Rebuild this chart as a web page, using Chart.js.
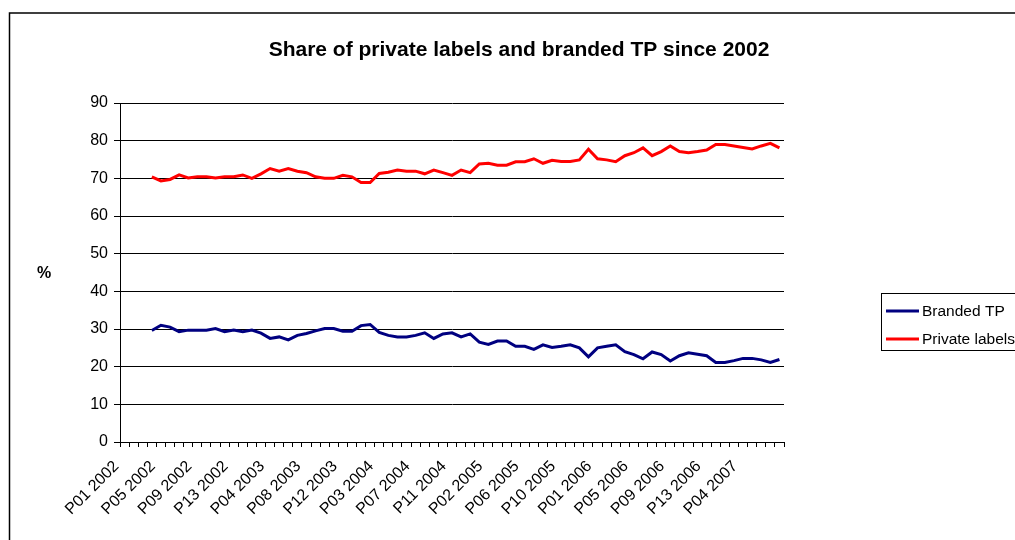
<!DOCTYPE html>
<html>
<head>
<meta charset="utf-8">
<script src="https://cdn.jsdelivr.net/npm/chart.js@4/dist/chart.umd.min.js"></script>
<style>
  body { margin: 0; background: #fff; overflow: hidden; }
  #wrap { position: absolute; left: 0; top: 0; width: 1015px; height: 540px; }
</style>
</head>
<body>
<div id="wrap"><canvas id="chart" width="1015" height="540"></canvas></div>
<script>
// periods P01 2002 .. P08 2007 (13 periods per year)
const periods = [];
for (let year = 2002; year <= 2007; year++) {
    for (let p = 1; p <= 13; p++) {
        if (periods.length < 73) periods.push('P' + String(p).padStart(2, '0') + ' ' + year);
    }
}

// labels actually printed under the axis (every 4th period)
const tickLabels = [
    'P01 2002', 'P05 2002', 'P09 2002', 'P13 2002', 'P04 2003', 'P08 2003',
    'P12 2003', 'P03 2004', 'P07 2004', 'P11 2004', 'P02 2005', 'P06 2005',
    'P10 2005', 'P01 2006', 'P05 2006', 'P09 2006', 'P13 2006', 'P04 2007'
];

// data starts at P04 2002
const firstPeriod = 3;

const brandedTP = [
    29.6, 31.0, 30.5, 29.3, 29.7, 29.7, 29.7, 30.1, 29.3, 29.7, 29.3, 29.7,
    28.9, 27.5, 27.9, 27.1, 28.3, 28.8, 29.5, 30.1, 30.1, 29.4,
    29.4, 30.9, 31.2, 29.1, 28.3, 27.9, 27.9, 28.3, 29.0, 27.5, 28.7, 29.0,
    27.9, 28.7, 26.5, 25.9, 26.8, 26.8, 25.4, 25.4, 24.6, 25.8, 25.1, 25.4,
    25.8, 25.0, 22.6, 25.0, 25.4, 25.8, 24.0, 23.2, 22.1, 23.9, 23.2, 21.5,
    22.9, 23.7, 23.3, 22.9, 21.1, 21.1, 21.6, 22.2, 22.2, 21.8, 21.1, 21.9
];

const privateLabels = [
    70.4, 69.3, 69.7, 70.9, 70.1, 70.4, 70.4, 70.1, 70.4, 70.4, 70.9, 70.0,
    71.2, 72.6, 71.9, 72.6, 71.9, 71.5, 70.4, 70.0, 70.0, 70.8,
    70.4, 68.9, 68.9, 71.3, 71.6, 72.2, 71.9, 71.9, 71.2, 72.2, 71.5, 70.8,
    72.2, 71.5, 73.8, 74.0, 73.5, 73.5, 74.4, 74.4, 75.2, 74.0, 74.8, 74.5,
    74.5, 74.9, 77.7, 75.2, 74.9, 74.4, 76.0, 76.8, 78.1, 76.0, 77.1, 78.6,
    77.1, 76.8, 77.1, 77.5, 79.0, 79.0, 78.6, 78.2, 77.8, 78.6, 79.3, 78.1
];

const yTicks = [0, 10, 20, 30, 40, 50, 60, 70, 80, 90];

const seriesNames = ['Branded TP', 'Private labels'];
const seriesColors = ['#000080', '#FF0000'];

const FONT = '"Liberation Sans", Arial, sans-serif';

function padData(values) {
    return new Array(firstPeriod).fill(null).concat(values);
}

// cadre, titre, "%" et legende dessines a la main
const decorPlugin = {
    id: 'decor',
    afterDraw(chart) {
        const ctx = chart.ctx;
        ctx.save();

        // cadre exterieur
        ctx.strokeStyle = '#000';
        ctx.lineWidth = 1.5;
        ctx.strokeRect(9.5, 13, 1030, 540);

        // titre
        ctx.fillStyle = '#000';
        ctx.font = 'bold 21px ' + FONT;
        ctx.textAlign = 'center';
        ctx.textBaseline = 'middle';
        ctx.fillText('Share of private labels and branded TP since 2002', 519, 50);

        // titre axe y
        ctx.font = 'bold 16px ' + FONT;
        ctx.fillText('%', 44, 274);

        // legende
        ctx.lineWidth = 1;
        ctx.strokeRect(881.5, 293.5, 150, 57);
        ctx.font = '15.5px ' + FONT;
        ctx.textAlign = 'left';
        const rows = [311, 339];
        seriesNames.forEach((name, i) => {
            ctx.strokeStyle = seriesColors[i];
            ctx.lineWidth = 3;
            ctx.beginPath();
            ctx.moveTo(886, rows[i]);
            ctx.lineTo(919, rows[i]);
            ctx.stroke();
            ctx.fillStyle = '#000';
            ctx.fillText(name, 922, rows[i] + 1);
        });

        ctx.restore();
    }
};

new Chart(document.getElementById('chart').getContext('2d'), {
    type: 'line',
    data: {
        labels: periods,
        datasets: seriesNames.map((name, i) => ({
            label: name,
            data: padData(i === 0 ? brandedTP : privateLabels),
            borderColor: seriesColors[i],
            backgroundColor: seriesColors[i],
            borderWidth: 3,
            pointRadius: 0,
            tension: 0,
            spanGaps: false
        }))
    },
    options: {
        responsive: false,
        animation: false,
        layout: { padding: { left: 0, right: 231, top: 103, bottom: 0 } },
        plugins: {
            legend: { display: false },
            title: { display: false },
            tooltip: { enabled: false }
        },
        scales: {
            x: {
                offset: true,
                grid: {
                    offset: true,
                    drawOnChartArea: false,
                    drawTicks: true,
                    tickLength: 5,
                    color: '#000'
                },
                border: { color: '#000', width: 1 },
                ticks: {
                    autoSkip: false,
                    minRotation: 45,
                    maxRotation: 45,
                    padding: 10,
                    labelOffset: -8,
                    color: '#000',
                    font: { family: FONT, size: 16 },
                    callback: (value, index) => (index % 4 === 0 && tickLabels[index / 4]) ? tickLabels[index / 4] : ''
                },
                afterFit: scale => { scale.height = 98; }
            },
            y: {
                min: yTicks[0],
                max: yTicks[yTicks.length - 1],
                afterBuildTicks: scale => { scale.ticks = yTicks.map(v => ({ value: v })); },
                grid: {
                    color: '#000',
                    lineWidth: 1,
                    drawTicks: true,
                    tickLength: 6
                },
                border: { color: '#000', width: 1 },
                ticks: {
                    padding: 6,
                    color: '#000',
                    font: { family: FONT, size: 16 }
                },
                afterFit: scale => { scale.width = 120; }
            }
        }
    },
    plugins: [decorPlugin]
});
</script>
</body>
</html>
